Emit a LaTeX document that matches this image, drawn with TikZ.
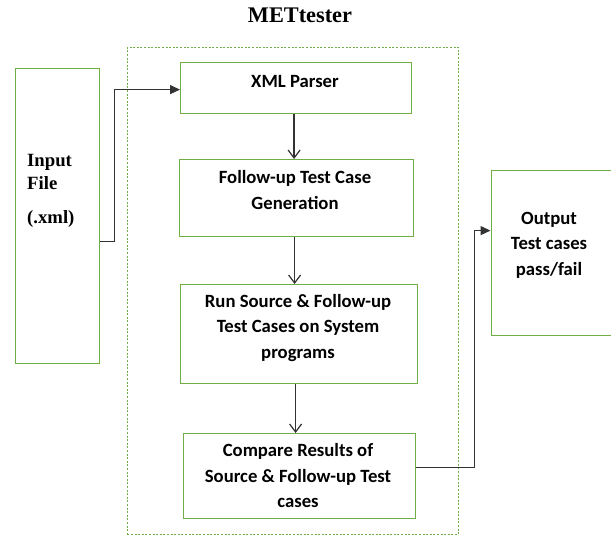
\documentclass[tikz,border=0pt]{standalone}
\usepackage{fontspec}
\setmainfont{Liberation Serif}
\newfontfamily\boxfont{Carlito}
\usetikzlibrary{arrows.meta}
\definecolor{boxgreen}{HTML}{70AD47}
\definecolor{conngray}{HTML}{333333}
\tikzset{
  box/.style={draw=boxgreen, line width=1.2pt, rectangle, anchor=north west, inner sep=0pt},
  dashbox/.style={draw=boxgreen, line width=0.9pt, dash pattern=on 2pt off 1.6pt, rectangle, anchor=north west, inner sep=0pt},
  btxt/.style={font=\boxfont\bfseries\fontsize{18.7}{25.5}\selectfont, align=center, inner sep=0pt, text=black},
  stxt/.style={font=\bfseries\fontsize{18.7}{22}\selectfont, anchor=base west, inner sep=0pt},
  conn/.style={draw=conngray, line width=1.3pt},
  filltip/.style={-{Triangle[length=10pt,width=9pt]}},
  opentip/.style={-{Straight Barb[length=8pt,width=12pt,line width=1.2pt]}}
}
\begin{document}
\begin{tikzpicture}[x=1pt,y=-1pt]
\useasboundingbox (0,0) rectangle (611,536);
% title
\node[font=\bfseries\fontsize{22.3}{26}\selectfont, inner sep=0pt] (title) at (300,15) {METtester};
% container
\node[dashbox, minimum width=331pt, minimum height=487pt] (met) at (127,47) {};
% boxes
\node[box, minimum width=84pt, minimum height=295pt] (inp) at (14.5,67.5) {};
\node[box, minimum width=231pt, minimum height=51pt] (xml) at (180,62) {};
\node[box, minimum width=234pt, minimum height=77pt] (fol) at (179,159) {};
\node[box, minimum width=237pt, minimum height=99pt] (run) at (180,284) {};
\node[box, minimum width=232pt, minimum height=85pt] (cmp) at (183,433) {};
\node[box, minimum width=120pt, minimum height=165pt] (out) at (490.5,170) {};
% texts
\node[stxt] (inpA) at (27,166) {Input};
\node[stxt] (inpB) at (27,189) {File};
\node[stxt] (inpC) at (27,223) {(.xml)};
\node[btxt] (xmlT) at (295,82) {XML Parser};
\node[btxt] (folT) at (295,190) {Follow-up Test Case\\Generation};
\node[btxt] (runT) at (298,328) {Run Source \& Follow-up\\Test Cases on System\\programs};
\node[btxt] (cmpT) at (298,476) {Compare Results of\\Source \& Follow-up Test\\cases};
\node[btxt] (outT) at (549,245) {Output\\Test cases\\pass/fail};
% connectors
\draw[conn, filltip] ([yshift=-26pt]inp.east) -- ++(14.5,0) |- ([yshift=-1.5pt]xml.west);
\draw[conn, opentip] ([xshift=-2pt]xml.south) -- ([xshift=-2pt]xml.south |- fol.north);
\draw[conn, opentip] ([xshift=-2pt]fol.south) -- ([xshift=-2pt]fol.south |- run.north);
\draw[conn, opentip] ([xshift=-3.5pt]run.south) -- ([xshift=-3.5pt]run.south |- cmp.north);
\draw[conn, filltip] ([yshift=8.5pt]cmp.east) -- ++(58,0) |- ([yshift=22.5pt]out.west);
\end{tikzpicture}
\end{document}
